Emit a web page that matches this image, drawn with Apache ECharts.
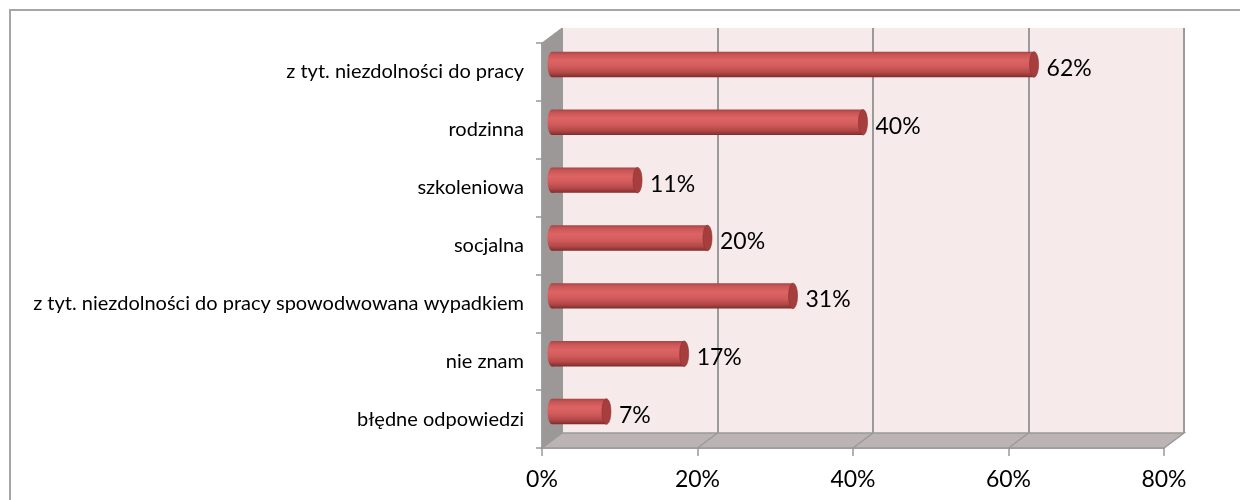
<!DOCTYPE html>
<html>
<head>
<meta charset="utf-8">
<script src="https://cdn.jsdelivr.net/npm/echarts@6/dist/echarts.min.js"></script>
<style>
  html, body { margin: 0; background: #fff; }
  #chart { width: 1240px; height: 500px; }
</style>
</head>
<body>
<div id="chart"></div>
<script>
// dane z wykresu
const categories = [
  'z tyt. niezdolności do pracy',
  'rodzinna',
  'szkoleniowa',
  'socjalna',
  'z tyt. niezdolności do pracy spowodwowana wypadkiem',
  'nie znam',
  'błędne odpowiedzi'
];
const values = [62, 40, 11, 20, 31, 17, 7];
const xMin = 0, xMax = 80, xStep = 20;

const FONT = 'Lato';
// uklad "3D": plaszczyzna przednia + przesuniecie w glab
const front = { left: 542, top: 43, width: 622, height: 405 };
const dx = 20, dy = -15;

const chart = echarts.init(document.getElementById('chart'));

const barGrad = new echarts.graphic.LinearGradient(0, 0, 0, 1, [
  { offset: 0, color: '#a64444' },
  { offset: 0.12, color: '#c95656' },
  { offset: 0.35, color: '#de6464' },
  { offset: 0.6, color: '#d05a5a' },
  { offset: 0.82, color: '#b44848' },
  { offset: 0.94, color: '#923636' },
  { offset: 1, color: '#772a2a' }
]);

function xAxisBase (idx) {
  return {
    type: 'value', gridIndex: idx, min: xMin, max: xMax, interval: xStep,
    axisLabel: { show: false }, axisTick: { show: false }, axisLine: { show: false },
    splitLine: { show: false }
  };
}
function yAxisBase (idx) {
  return {
    type: 'category', gridIndex: idx, inverse: true, data: categories,
    axisLabel: { show: false }, axisTick: { show: false }, axisLine: { show: false },
    splitLine: { show: false }
  };
}

const xFront = xAxisBase(0);
xFront.axisLine = { show: true, lineStyle: { color: '#999', width: 1.5 } };
xFront.axisTick = { show: true, length: 8, lineStyle: { color: '#999', width: 1.5 } };
xFront.axisLabel = { show: true, formatter: '{value}%', fontFamily: FONT, fontSize: 23, color: '#000', margin: 20 };

const xBack = xAxisBase(1);
xBack.splitLine = { show: true, lineStyle: { color: '#9a9a9a', width: 2 } };

const yFront = yAxisBase(0);
yFront.axisLine = { show: true, lineStyle: { color: '#8c8c8c', width: 1.5 } };
yFront.axisTick = { show: true, length: 6, lineStyle: { color: '#999', width: 1.5 } };
yFront.axisLabel = { show: true, fontFamily: FONT, fontSize: 20, color: '#000', margin: 18 };

const option = {
  animation: false,
  grid: [
    { left: front.left, top: front.top, width: front.width, height: front.height },
    { left: front.left + dx, top: front.top + dy, width: front.width, height: front.height,
      show: true, backgroundColor: '#f6eaea', borderWidth: 0, z: 0 },
    { left: front.left + dx / 2, top: front.top + dy / 2, width: front.width, height: front.height }
  ],
  xAxis: [xFront, xBack, xAxisBase(2)],
  yAxis: [yFront, yAxisBase(1), yAxisBase(2)],
  series: [{
    type: 'custom',
    xAxisIndex: 2,
    yAxisIndex: 2,
    z: 5,
    data: values.map((v, i) => [v, i]),
    renderItem: function (params, api) {
      const v = api.value(0)
      const c = api.value(1)
      const s = api.coord([xMin, c])
      const e = api.coord([v, c])
      const h = api.size([0, 1])[1] * 0.44
      const r = 4.5
      return {
        type: 'group',
        children: [
          { type: 'ellipse', shape: { cx: s[0], cy: s[1], rx: r, ry: h / 2 }, style: { fill: barGrad } },
          { type: 'rect', shape: { x: s[0], y: s[1] - h / 2, width: e[0] - s[0], height: h }, style: { fill: barGrad } },
          { type: 'ellipse', shape: { cx: e[0], cy: e[1], rx: r, ry: h / 2 },
            style: { fill: '#a63e3e', stroke: '#8a3030', lineWidth: 0.6 } },
          { type: 'text', x: e[0] + r + 8, y: e[1] + 4,
            style: { text: v + '%', fill: '#000', font: '23px ' + FONT, verticalAlign: 'middle' } }
        ]
      }
    }
  }]
};
chart.setOption(option);

// sciana boczna, podloga i linie siatki na podlodze
const L = front.left, R = front.left + front.width;
const T = front.top, B = front.top + front.height;
const gfx = [
  { type: 'rect', shape: { x: 10, y: 10, width: 1240, height: 500 },
    style: { fill: null, stroke: '#a6a6a6', lineWidth: 2 }, z: 0 },
  { type: 'polygon', shape: { points: [[L, T], [L + dx, T + dy], [L + dx, B + dy], [L, B]] },
    style: { fill: '#9d9898', stroke: '#999', lineWidth: 1 }, z: 1 },
  { type: 'polygon', shape: { points: [[L, B], [L + dx, B + dy], [R + dx, B + dy], [R, B]] },
    style: { fill: '#bcb3b3', stroke: '#999', lineWidth: 1.5 }, z: 1 }
];
for (let v = xMin + xStep; v < xMax; v += xStep) {
  const p = chart.convertToPixel({ xAxisIndex: 0 }, v);
  const q = chart.convertToPixel({ xAxisIndex: 1 }, v);
  gfx.push({ type: 'line', shape: { x1: p, y1: B, x2: q, y2: B + dy },
    style: { stroke: '#9a9a9a', lineWidth: 1.5 }, z: 1 });
}
chart.setOption({ graphic: gfx });
</script>
</body>
</html>
